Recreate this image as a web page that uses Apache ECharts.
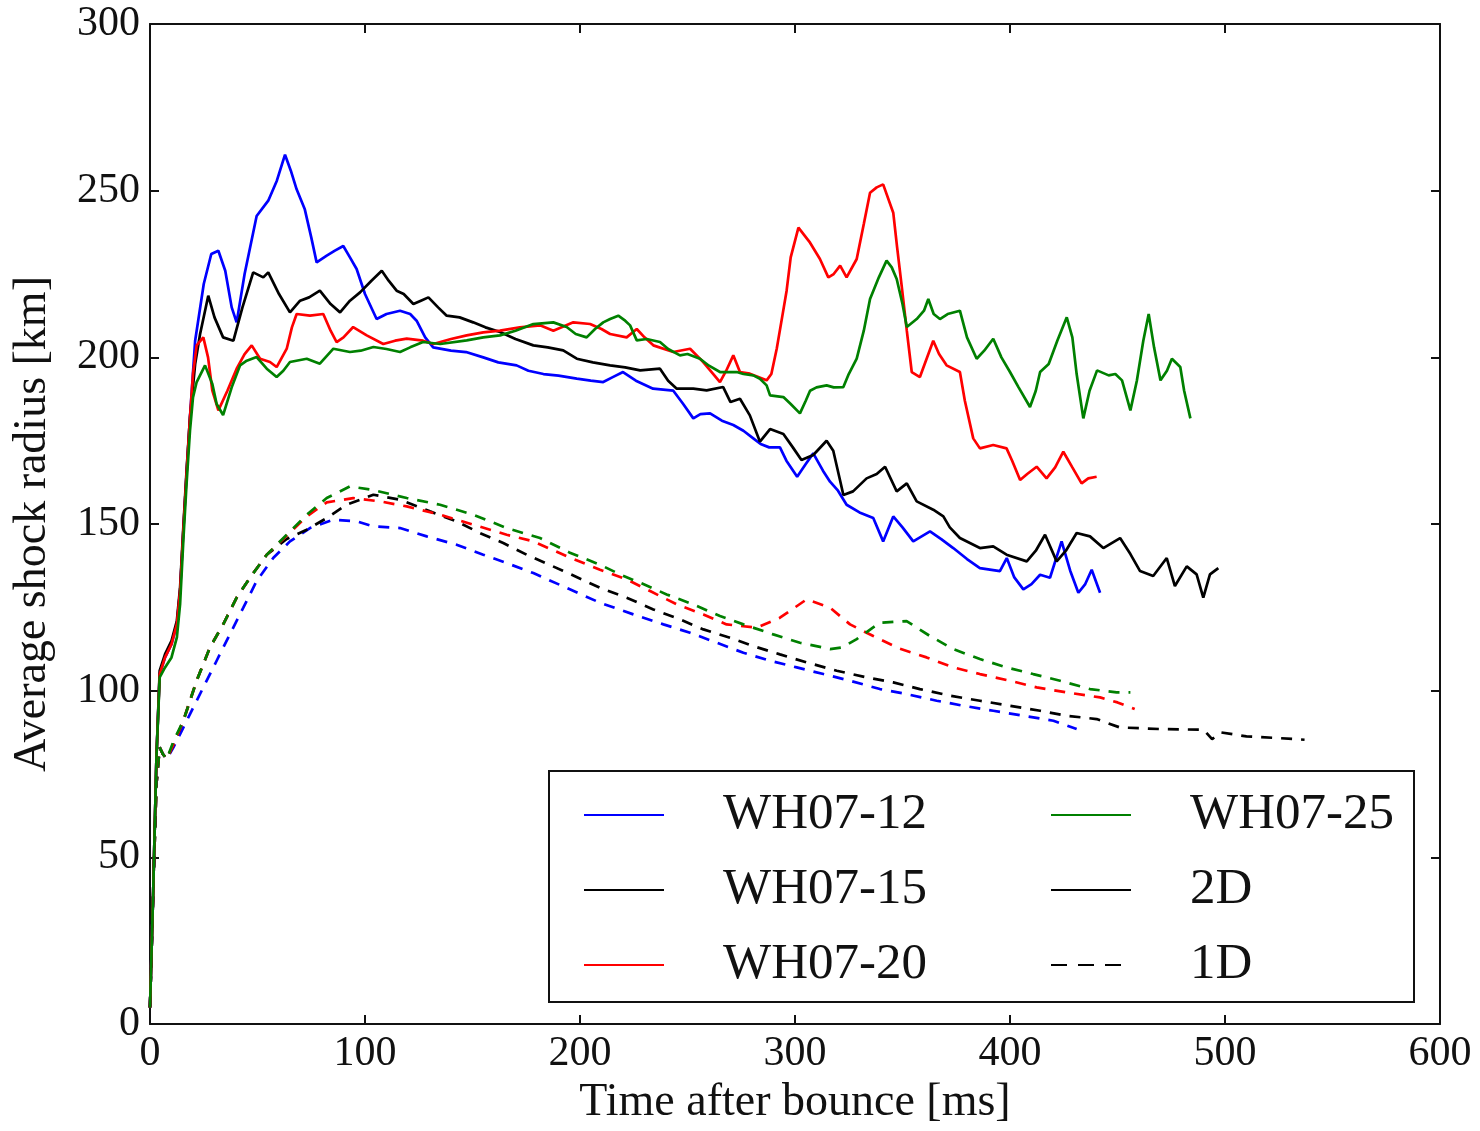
<!DOCTYPE html>
<html>
<head>
<meta charset="utf-8">
<script src="https://cdn.jsdelivr.net/npm/echarts@6/dist/echarts.min.js"></script>
<style>
html,body{margin:0;padding:0;background:#fff;}
#chart{width:1480px;height:1131px;}
</style>
</head>
<body>
<div id="chart"></div>
<script>
// ---- data: [time after bounce (ms), average shock radius (km)] ----
const xTicks = [0, 100, 200, 300, 400, 500, 600];
const yTicks = [0, 50, 100, 150, 200, 250, 300];
const legendCol1 = ['WH07-12', 'WH07-15', 'WH07-20'];
const legendCol2 = ['WH07-25', '2D', '1D'];

const wh12_2d = [[0,5],[1.5,40],[3,80],[4.5,105],[7,110],[10,114],[12.5,120],[14,130],[15.5,148],[17,165],[18.6,182],[21,205],[25,222],[28.5,231],[31.8,232],[35,226],[38,215],[40.3,210.5],[44,225],[49.6,242.4],[55,247],[59,253],[62.8,260.8],[65.5,256],[68.2,250.4],[72,244.4],[75,236],[77.5,228.5],[82.2,230.5],[86,232],[89.9,233.4],[93,230],[96.1,226.5],[100,219],[105.4,211.5],[110,213],[116.3,214],[121,213],[124,211],[128,206],[131.7,203],[140,202],[147,201.6],[155,200],[162,198.5],[170.5,197.6],[176,196],[183,195],[190,194.5],[198.5,193.6],[205,193],[210.8,192.6],[215,194],[220,195.6],[226,193],[234,190.6],[243.4,190],[248,186],[252.7,181.7],[256,183],[260.5,183.2],[266,181],[271.3,179.7],[276,178],[280.6,175.7],[284,174],[288,173],[293,173],[296,169],[301,164.2],[305,168],[308.5,171.2],[313,166],[316.3,162.7],[320,160],[324,155.8],[330,153.5],[336.4,151.8],[341,144.8],[345.7,152.3],[350,149],[355,144.8],[362.8,147.8],[368,145.5],[373.6,142.8],[380,139.5],[386,136.8],[395.3,135.9],[398.5,139.8],[402,134],[406.2,130.4],[410,132],[414,134.8],[418.6,133.9],[424,144.8],[428,136],[431.8,129.4],[435,132],[438,136.3],[441.9,129.4]];

const wh15_2d = [[0,5],[1.5,40],[3,80],[4.5,106],[7,111],[10,115],[12.5,121],[14,131],[15.5,149],[17,166],[18.6,182],[21,198],[23.3,207],[27.1,218.5],[30,212],[34,206],[38.8,205],[43,215],[48,225.5],[52.7,224],[55,225.5],[60,219],[65.1,213.5],[69.8,217],[74,218],[79,220],[84,216],[88.4,213.5],[93,217],[97.7,219.5],[103,223],[107.8,226],[111,223],[114.7,220],[118,219],[122.5,216],[126,217],[129.5,218],[134,215],[138,212.5],[144,212],[150.3,210.5],[156,209],[162.8,207.6],[170,205.5],[178.3,203.6],[185,203],[192.2,202.1],[198.5,199.6],[206,198.5],[214,197.6],[221,197],[228,196.1],[237.2,196.6],[241,193],[245,190.6],[252.7,190.6],[258.9,190.1],[266.6,191.1],[270,186.6],[274.4,187.6],[279,182.6],[283.7,174.7],[288.4,178.5],[294.6,177],[299,173],[303,169.2],[308.5,170.7],[314.7,175],[317.8,172],[321,163],[322.5,158.7],[327,159.8],[333.3,163.7],[338,165],[341.9,167.2],[347.3,159.8],[352,162.2],[356.6,156.8],[364.3,154.3],[369,152.3],[372,149],[376.7,145.8],[386,142.8],[392.2,143.3],[398.4,140.8],[407.8,138.8],[412,142],[416.3,146.8],[421.7,138.8],[426,142],[431,147.3],[437.2,146.3],[443.4,142.8],[451.2,145.8],[456,141],[460.5,135.9],[466.6,134.4],[472.9,139.8],[476.7,131.4],[482.2,137.3],[486.8,134.9],[489.9,127.9],[493,134.9],[496.9,136.8]];

const wh20_2d = [[0,5],[1.5,40],[3,80],[4.5,105],[7,110],[10,114],[12.5,120],[14,130],[15.5,148],[17,165],[18.6,182],[20,195],[21.7,203.6],[24.8,206],[27,200],[29,190],[31.8,184.1],[36,190],[40.3,196.6],[44,201],[47.3,203.6],[51.2,199.6],[55.8,198.6],[58.9,197.1],[63.6,202.6],[66,209],[68.2,213],[74.4,212.5],[80.6,213],[84,208],[86.8,204.6],[90,206],[94.5,209.1],[100.8,206.6],[108.5,204],[114,205],[119.4,205.6],[127,205],[131.8,204],[140,205.5],[147.3,206.6],[155,207.5],[162.8,208],[172,209],[181.4,209.6],[187.6,208],[196.9,210.5],[204.7,210],[210,208.5],[214,207],[221.7,206],[226.4,208.5],[230,206],[234.1,203.6],[243.4,201.6],[251.2,202.6],[257.3,198.6],[262,195],[265.1,192.6],[268,196],[271.3,200.6],[274.4,195.6],[279,195.1],[286.8,193.1],[289,195],[291.5,202.6],[294,212],[296.1,220],[298,230],[301.6,238.9],[307,234.4],[311.6,229.5],[315.5,224],[318,225],[321,227.5],[324,224],[328.7,229.5],[332,240],[334.9,249.4],[338,251],[341,251.9],[345.7,243.4],[347.5,233],[349.6,221.5],[352,208],[354.3,195.6],[358.1,194.1],[364.3,205],[367,201],[370.5,197.6],[376.7,195.6],[379,187],[382.9,175.7],[386,172.7],[392.2,173.7],[398.4,172.7],[401,169],[404.7,163.2],[408,165],[412.4,167.2],[417,163.7],[421,167],[424.8,171.7],[429,167],[433.3,162.2],[436.4,163.7],[440.3,164.2]];

const wh25_2d = [[0,5],[1.5,40],[3,80],[4.5,104],[7,107],[10,110],[12.5,116],[14,126],[15.5,145],[17,162],[18.6,178],[20,188],[21.7,192.6],[25.6,197.6],[29,192],[31,186],[34,182.7],[38,191],[41.9,197.6],[45,199],[49.6,200.1],[54.3,196.6],[58.9,194.1],[62,196],[65.1,198.6],[72.9,199.6],[79,198.1],[85.3,202.6],[93,201.6],[98,202],[103.9,203.1],[110,202.5],[116.3,201.6],[121,203],[127,204.6],[135,204],[147.3,205.1],[155,206],[162.8,206.6],[170,208],[178.3,210],[187.6,210.5],[193.8,209.1],[198,207],[203.1,206],[207,208.5],[210.8,210.5],[214,211.5],[217.8,212.5],[221,211],[223.3,209.6],[226.4,205.1],[231,205.5],[237.2,204.6],[241,202.5],[246.5,200.6],[250,201],[255.8,199.6],[260,197.5],[265.1,195.6],[272.9,195.6],[276,195],[280.6,194.6],[283.7,193.6],[286.8,191.6],[288.4,188.6],[294.6,188.1],[298,186],[302.3,183.2],[305,187],[307,190],[310,191],[314.7,191.6],[318,191],[322.5,191.1],[325,195],[328.7,199.6],[332,208],[334.9,217.5],[339,224],[342.6,229],[345,227],[347.3,223.5],[350,216],[352,209.1],[356.6,211.5],[360,214],[362,217.5],[364.5,213],[367.4,211.5],[371,213],[376.7,214],[380,206],[384.5,199.6],[388,202],[392.2,205.6],[396,200],[400,195.6],[404,191],[409.3,185.1],[412,190],[414,195.6],[418,198],[422,205],[426.4,212],[429,206],[431,195],[434.1,181.7],[437,190],[440.5,196.1],[445.9,194.6],[449,195],[452.1,193.1],[456,184.1],[459,193],[462,205],[464.5,213],[467,203],[470,193.1],[473,196],[475.3,199.6],[479.2,197.1],[481,190],[483.9,181.7]];

const wh12_1d = [[0,5],[1.5,40],[3,72],[4.5,83],[6,81],[7.8,79.5],[10.9,83],[14,87],[18.6,93],[24.8,101],[31,109],[37.2,117],[43.4,124.9],[49.6,132.9],[57.3,139.8],[65.1,144.8],[74.4,148.8],[85.3,151.3],[96.1,150.8],[103.9,149.3],[116.3,148.8],[128.7,146.3],[142.6,143.8],[155,140.8],[165.9,138.3],[178.3,135.3],[195,130.5],[209.3,126.4],[224.8,122.9],[238.8,119.9],[251.2,117.4],[263.6,114.4],[276,111.4],[288.4,109],[300.8,107],[313.2,105],[325.6,103],[339.5,100.5],[351.9,99],[365.9,97],[378.3,95.5],[392.2,94],[406.2,92.5],[420.2,91],[431,88.5]];

const wh15_1d = [[0,5],[1.5,40],[3,72],[4.5,83],[6,81],[7.8,79.5],[11,84],[15.5,91],[21.7,103],[27.9,113],[34.1,120],[40.3,127.9],[46.5,133.9],[54.3,140.8],[63.6,145.5],[72.9,148.3],[82.2,151.8],[91.4,155.8],[103.9,158.8],[116.3,157.3],[130.2,153.8],[142.6,150.8],[153.5,147.3],[164.3,144.3],[175.2,140.8],[192,136],[209.3,130.9],[221.7,127.9],[234.1,124.4],[246.5,121.4],[257.4,118.4],[269.8,115.9],[280.6,113.4],[293,110.9],[305.4,108.5],[319.4,106],[333.3,104],[345.7,102.5],[358.1,100.5],[372.1,98.5],[386,97],[400,95.5],[414,94],[426.4,92.5],[440.3,91.5],[451,89],[470,88.5],[490,88.3],[494,85.5],[498,87.5],[510,86.3],[525,85.8],[537,85.3]];

const wh20_1d = [[0,5],[1.5,40],[3,72],[4.5,83],[6,81],[7.8,79.5],[11,84],[15.5,91],[21.7,103],[27.9,113],[34.1,120],[40.3,127.9],[46.5,133.9],[54.3,140.8],[63.6,146.5],[72.9,152.3],[82.2,156.5],[94.5,157.8],[107,156.8],[119.4,155.3],[134.9,152.8],[150.4,149.8],[165.9,146.8],[178.3,144.8],[195,140],[209.3,136.3],[221.7,133.4],[232.6,129.9],[245,125.9],[257.4,122.9],[268.2,119.9],[282.2,118.9],[293,121.9],[305.4,127.4],[316.3,124.9],[325.6,119.9],[336.4,116.4],[348.8,112.6],[361.2,110],[373.6,107],[386,105],[400,103],[412.4,101],[426.4,99.5],[441.9,98],[450,96.5],[458,94.5]];

const wh25_1d = [[0,5],[1.5,40],[3,72],[4.5,83],[6,81],[7.8,79.5],[11,85],[15.5,91],[21.7,103],[27.9,113],[34.1,120],[40.3,127.9],[46.5,133.9],[54.3,140.8],[63.6,146.8],[72.9,152.8],[82.2,157.8],[93,161.3],[103.9,160.2],[119.4,157.8],[134.9,155.8],[150.4,152.8],[165.9,148.8],[181.4,145.8],[195,141.5],[209.3,137.8],[218.6,134.9],[229.4,132],[240.3,128.9],[252.7,125.9],[265.1,122.4],[276,119.9],[289.9,116.9],[302.3,114.4],[316.3,112.5],[322,113],[328.7,115.5],[339.5,120.4],[351.9,120.9],[362.8,116.4],[373.6,112.5],[386,109.5],[398.4,107],[410.8,105],[423.3,103],[437.2,100.5],[449.6,99.5],[456,99.5]];

// ---- styling ----
const FONT = "'Liberation Serif', 'DejaVu Serif', serif";
const BLUE = '#0000ff', BLACK = '#000000', RED = '#ff0000', GREEN = '#008000';
const DASH = [11, 9];

function solid(name, data, color) {
  return { name: name, type: 'line', data: data, showSymbol: false, symbol: 'none',
    lineStyle: { color: color, width: 2.7, type: 'solid' }, itemStyle: { color: color },
    silent: true, animation: false };
}
function dashed(name, data, color) {
  return { name: name, type: 'line', data: data, showSymbol: false, symbol: 'none',
    lineStyle: { color: color, width: 2.7, type: DASH }, itemStyle: { color: color },
    silent: true, animation: false };
}

const chart = echarts.init(document.getElementById('chart'), null, { renderer: 'canvas' });

const axisLineStyle = { color: '#111', width: 2 };
const tickStyle = { show: true, inside: true, length: 9, lineStyle: { color: '#111', width: 2 } };

const legendText = { fontFamily: FONT, fontSize: 51, color: '#111', lineHeight: 56, padding: [0, 0, 0, 54] };
const legendCommon = { orient: 'vertical', top: 787, padding: 0, itemGap: 19,
  itemWidth: 80, itemHeight: 14, textStyle: legendText, selectedMode: false,
  itemStyle: { opacity: 0, borderWidth: 0 } };

const option = {
  backgroundColor: '#fff',
  animation: false,
  grid: { left: 150, right: 40, top: 24, bottom: 103, containLabel: false },
  xAxis: [
    { type: 'value', min: xTicks[0], max: xTicks[xTicks.length - 1], interval: 100, position: 'bottom',
      name: 'Time after bounce [ms]', nameLocation: 'middle', nameGap: 54,
      nameTextStyle: { fontFamily: FONT, fontSize: 46, color: '#111' },
      axisLine: { show: true, onZero: false, lineStyle: axisLineStyle }, axisTick: tickStyle,
      axisLabel: { fontFamily: FONT, fontSize: 42, color: '#111', margin: 9 },
      splitLine: { show: false } },
    { type: 'value', min: xTicks[0], max: xTicks[xTicks.length - 1], interval: 100, position: 'top',
      axisLine: { show: true, onZero: false, lineStyle: axisLineStyle }, axisTick: tickStyle,
      axisLabel: { show: false }, splitLine: { show: false } }
  ],
  yAxis: [
    { type: 'value', min: yTicks[0], max: yTicks[yTicks.length - 1], interval: 50, position: 'left',
      name: 'Average shock radius [km]', nameLocation: 'middle', nameGap: 94, nameRotate: 90,
      nameTextStyle: { fontFamily: FONT, fontSize: 46, color: '#111' },
      axisLine: { show: true, onZero: false, lineStyle: axisLineStyle }, axisTick: tickStyle,
      axisLabel: { fontFamily: FONT, fontSize: 42, color: '#111', margin: 10 },
      splitLine: { show: false } },
    { type: 'value', min: yTicks[0], max: yTicks[yTicks.length - 1], interval: 50, position: 'right',
      axisLine: { show: true, onZero: false, lineStyle: axisLineStyle }, axisTick: tickStyle,
      axisLabel: { show: false }, splitLine: { show: false } }
  ],
  legend: [
    Object.assign({ data: legendCol1, left: 583 }, legendCommon),
    Object.assign({ data: legendCol2, left: 1050 }, legendCommon)
  ],
  graphic: [
    { type: 'rect', left: 548, top: 770, z: 0, silent: true,
      shape: { width: 865, height: 231 },
      style: { fill: 'rgba(0,0,0,0)', stroke: '#111', lineWidth: 2 } }
  ],
  series: [
    dashed('WH07-12 1D', wh12_1d, BLUE),
    dashed('WH07-15 1D', wh15_1d, BLACK),
    dashed('WH07-20 1D', wh20_1d, RED),
    dashed('WH07-25 1D', wh25_1d, GREEN),
    solid('WH07-12', wh12_2d, BLUE),
    solid('WH07-15', wh15_2d, BLACK),
    solid('WH07-20', wh20_2d, RED),
    solid('WH07-25', wh25_2d, GREEN),
    solid('2D', [], BLACK),
    Object.assign(dashed('1D', [], BLACK), { lineStyle: { color: BLACK, width: 2.7, type: [16, 11] } })
  ]
};
chart.setOption(option);
</script>
</body>
</html>
